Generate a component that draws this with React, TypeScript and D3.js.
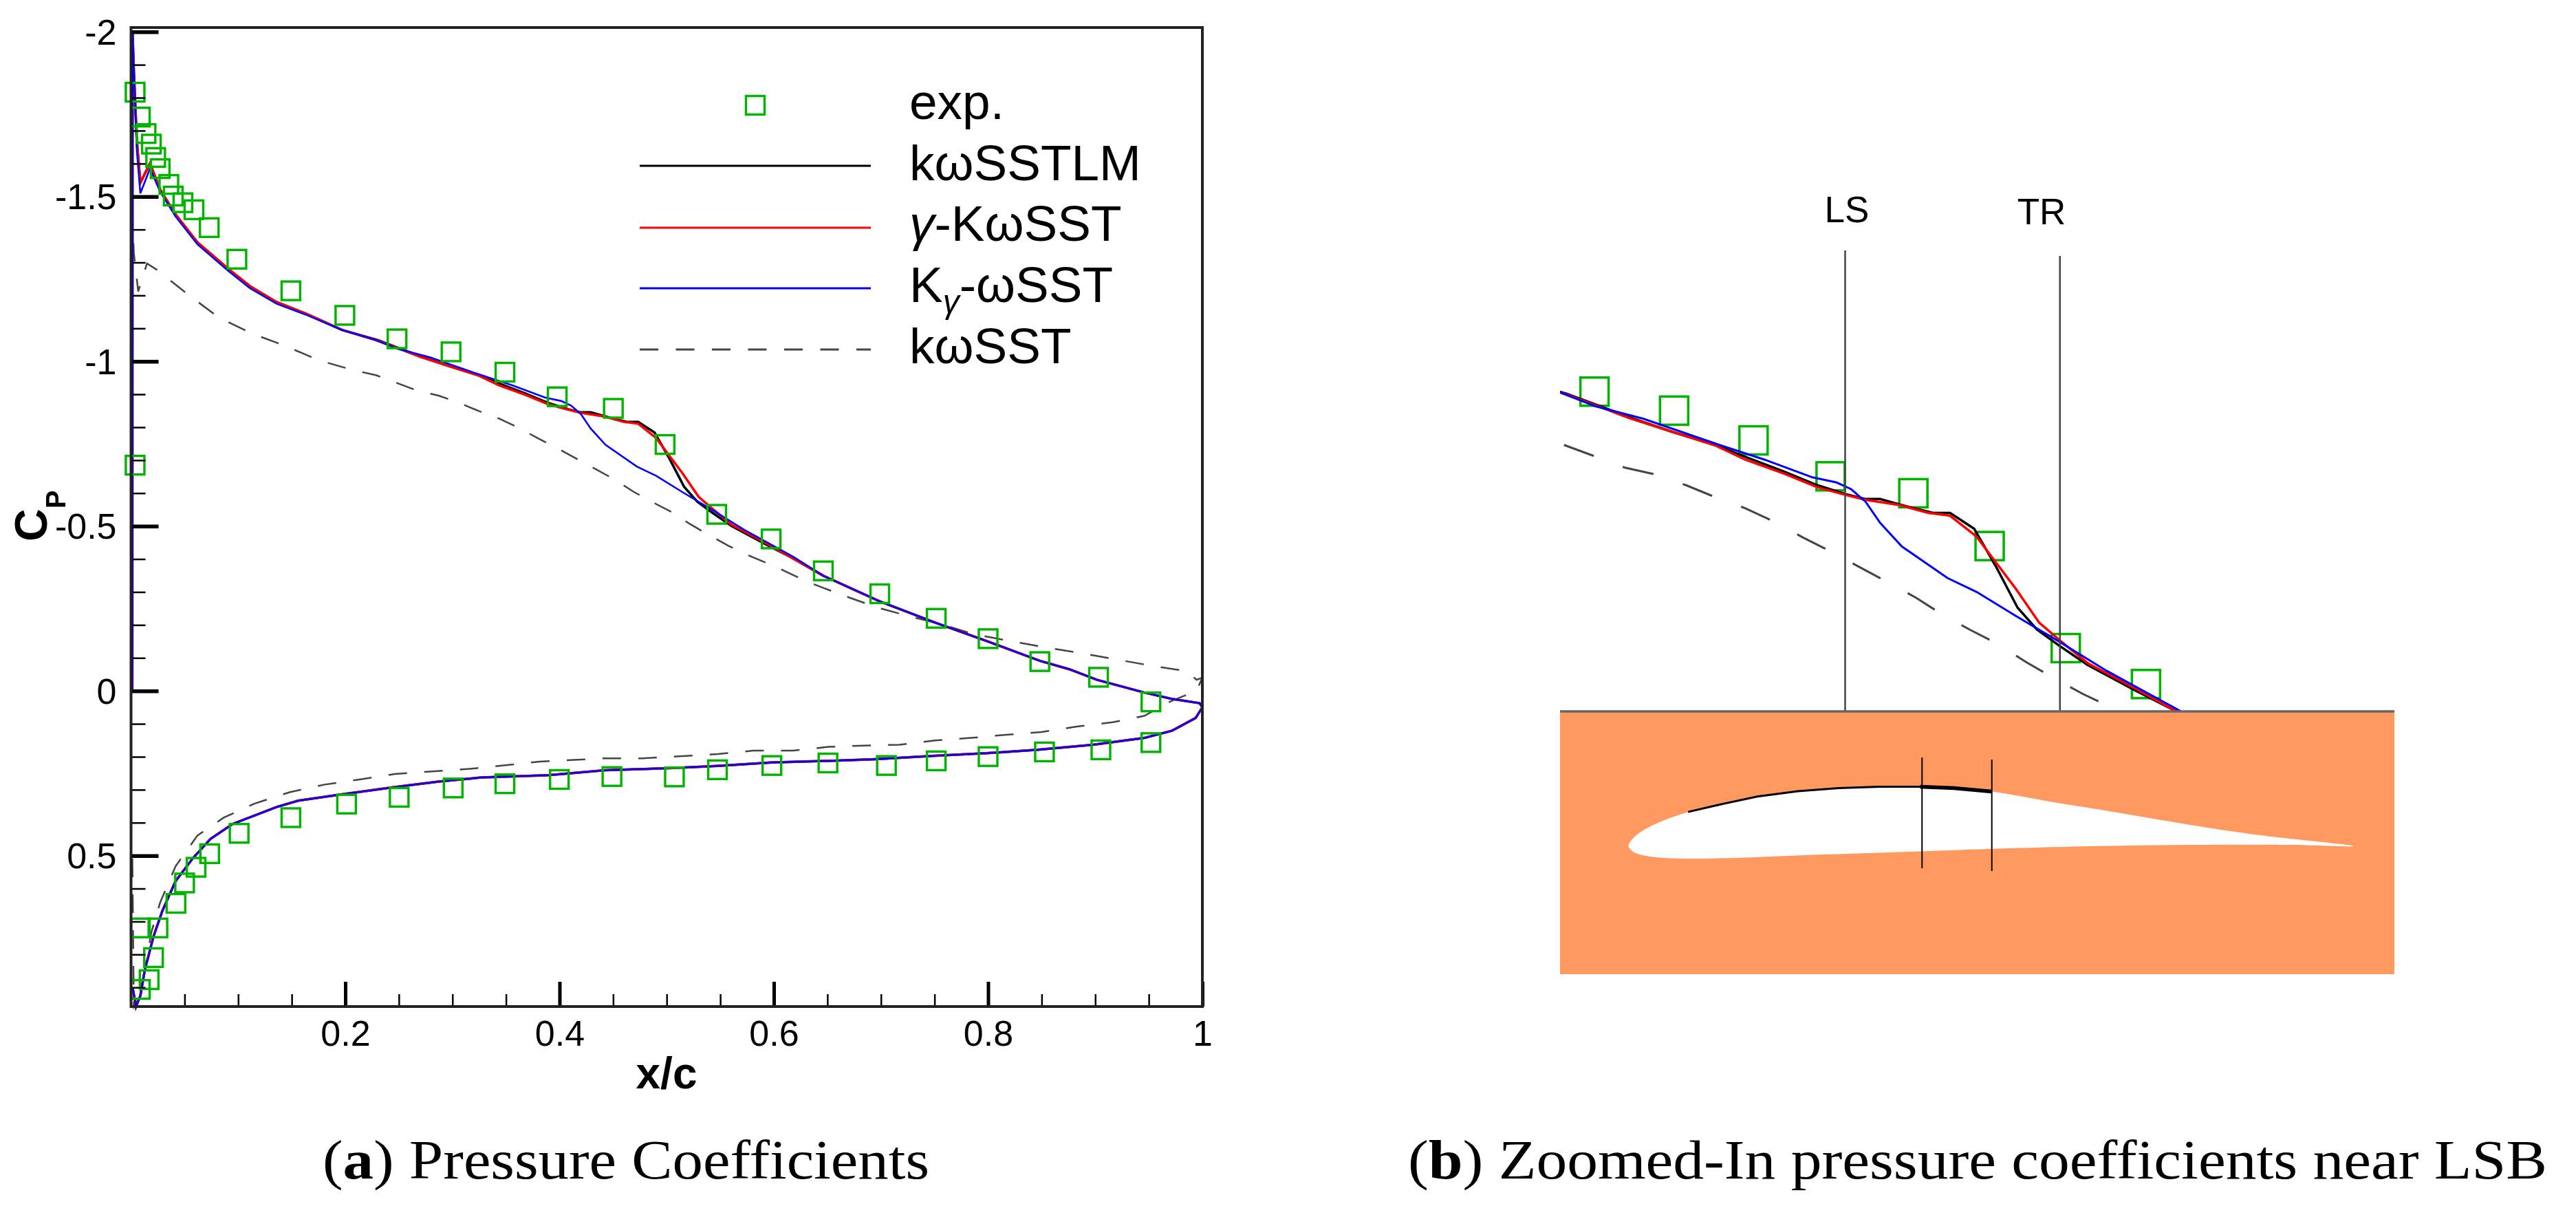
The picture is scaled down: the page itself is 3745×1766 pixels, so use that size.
import { useEffect, useRef } from 'react'
import * as d3 from 'd3'

type Pt = [number, number]

// x/c, Cp
const expPoints: Pt[] = [
  [0.0038, -1.8168], [0.0087, -1.7412], [0.014, -1.6912], [0.019, -1.6592], [0.023, -1.6187],
  [0.0272, -1.5847], [0.0353, -1.5368], [0.0394, -1.5016], [0.0484, -1.4813], [0.0587, -1.46],
  [0.073, -1.4058], [0.0988, -1.3099], [0.1492, -1.2141], [0.1996, -1.1395], [0.2483, -1.0682],
  [0.2987, -1.0288], [0.349, -0.967], [0.3978, -0.8924], [0.4502, -0.8573], [0.4985, -0.7476],
  [0.5467, -0.5357], [0.5975, -0.461], [0.6462, -0.3642], [0.6989, -0.2947], [0.7516, -0.2201],
  [0.8, -0.1583], [0.8483, -0.0888], [0.9031, -0.0412], [0.952, 0.0335], [0.0038, -0.6848],
  [0.952, 0.157], [0.9053, 0.1789], [0.8526, 0.1853], [0.8, 0.1995], [0.7516, 0.2124],
  [0.7051, 0.2265], [0.6505, 0.2188], [0.5982, 0.2265], [0.5474, 0.2394], [0.5072, 0.2613],
  [0.4489, 0.26], [0.3998, 0.269], [0.349, 0.2819], [0.3007, 0.2947], [0.2503, 0.3231],
  [0.2012, 0.3436], [0.1492, 0.3848], [0.1009, 0.4324], [0.0734, 0.4942], [0.0607, 0.5354],
  [0.05, 0.583], [0.0419, 0.6448], [0.0251, 0.7194], [0.021, 0.8095], [0.0169, 0.8764],
  [0.0087, 0.7194], [0.0087, 0.9061],
]

// front part of the suction side, shared by the transition models
const noseUpper: Pt[] = [
  [0.0012, 0.0], [0.0014, -2.0], [0.0026, -1.883], [0.0054, -1.67], [0.0087, -1.542],
  [0.0177, -1.6006], [0.0272, -1.5208], [0.0415, -1.446], [0.062, -1.361], [0.0906, -1.281],
  [0.111, -1.228], [0.1357, -1.18], [0.1643, -1.143], [0.1971, -1.095],
]
const noseUpperBlue: Pt[] = [
  [0.0012, 0.0], [0.0014, -2.0], [0.0026, -1.883], [0.0054, -1.64], [0.0087, -1.51],
  [0.0177, -1.585], [0.0272, -1.515], [0.0415, -1.44], [0.062, -1.355], [0.0906, -1.275],
  [0.111, -1.222], [0.1357, -1.175], [0.1643, -1.14], [0.1971, -1.095],
]

// bubble region
const bubbleBlack: Pt[] = [
  [0.2305, -1.0642], [0.2519, -1.0379], [0.2702, -1.015], [0.2977, -0.9846], [0.3252, -0.9575],
  [0.3436, -0.933], [0.368, -0.9026], [0.3894, -0.8739], [0.4077, -0.855], [0.42, -0.8452],
  [0.4291, -0.8452], [0.4474, -0.8288], [0.4627, -0.8164], [0.4734, -0.8164], [0.4887, -0.7836],
  [0.5024, -0.7057], [0.5162, -0.6196], [0.5284, -0.5745], [0.5422, -0.5416], [0.5605, -0.5006],
  [0.591, -0.4473], [0.6155, -0.4063],
]
const bubbleRed: Pt[] = [
  [0.2305, -1.0625], [0.2519, -1.0363], [0.2702, -1.0133], [0.2977, -0.9846], [0.3252, -0.9559],
  [0.3436, -0.9272], [0.368, -0.8985], [0.3894, -0.8698], [0.4077, -0.8534], [0.42, -0.8435],
  [0.4413, -0.8329], [0.4597, -0.8164], [0.4734, -0.8107], [0.4902, -0.7672], [0.5024, -0.7139],
  [0.5147, -0.6606], [0.5299, -0.5884], [0.5422, -0.5539], [0.5605, -0.5047], [0.591, -0.4514],
  [0.6155, -0.4063],
]
const bubbleBlue: Pt[] = [
  [0.2265, -1.0667], [0.2489, -1.0379], [0.2794, -1.0117], [0.3252, -0.96], [0.3558, -0.9272],
  [0.3863, -0.8903], [0.4016, -0.8796], [0.4108, -0.8657], [0.42, -0.8394], [0.4291, -0.7959],
  [0.4429, -0.7467], [0.4719, -0.6811], [0.4902, -0.6524], [0.5147, -0.6032], [0.5422, -0.5498],
  [0.5727, -0.4883], [0.6185, -0.4063],
]

// rear of the suction side and the whole pressure side
const tailAndLower: Pt[] = [
  [0.6465, -0.3488], [0.6989, -0.2716], [0.7505, -0.2072], [0.8002, -0.1493], [0.8481, -0.0914],
  [0.8758, -0.0656], [0.9016, -0.0335], [0.9458, 0.0051], [0.9716, 0.0245], [0.9974, 0.0373],
  [1.0, 0.05], [0.9937, 0.0824], [0.9716, 0.121], [0.9458, 0.1429], [0.8979, 0.1635],
  [0.8463, 0.1789], [0.7984, 0.1892], [0.7505, 0.197], [0.6952, 0.2072], [0.6511, 0.2124],
  [0.5976, 0.2175], [0.5477, 0.2278], [0.507, 0.2342], [0.4428, 0.2407], [0.3895, 0.2561],
  [0.3281, 0.2625], [0.2872, 0.2754], [0.2462, 0.2921], [0.1971, 0.314], [0.1561, 0.3333],
  [0.1357, 0.3526], [0.0947, 0.4041], [0.0742, 0.4492], [0.0579, 0.5071], [0.0415, 0.5779],
  [0.0292, 0.668], [0.021, 0.7452], [0.0128, 0.8481], [0.0087, 0.9254], [0.0046, 0.9588],
  [0.0015, 0.9],
]

const kwSST: Pt[] = [
  [0.001, -1.4675], [0.0026, -1.329], [0.0067, -1.212], [0.0149, -1.297], [0.025, -1.276],
  [0.0537, -1.2013], [0.0824, -1.132], [0.1131, -1.084], [0.1439, -1.047], [0.1746, -1.004],
  [0.2053, -0.975], [0.229, -0.9575], [0.2473, -0.9354], [0.2672, -0.9108], [0.287, -0.896],
  [0.3063, -0.8739], [0.3246, -0.8493], [0.3436, -0.8263], [0.3619, -0.7984], [0.3802, -0.7656],
  [0.398, -0.7361], [0.416, -0.7041], [0.4337, -0.6729], [0.452, -0.6401], [0.4688, -0.6048],
  [0.4866, -0.5728], [0.5043, -0.5433], [0.5217, -0.5064], [0.5391, -0.4735], [0.5574, -0.4407],
  [0.5758, -0.412], [0.6029, -0.3745], [0.6324, -0.3295], [0.6638, -0.2909], [0.697, -0.2523],
  [0.7265, -0.2265], [0.7578, -0.2008], [0.7873, -0.1712], [0.8242, -0.1493], [0.8574, -0.13],
  [0.8887, -0.1133], [0.9219, -0.094], [0.9532, -0.0759], [0.9864, -0.0592], [0.9945, -0.0335],
  [1.0, -0.04], [0.9945, 0.0], [0.9716, 0.03], [0.9458, 0.0759], [0.9163, 0.0952],
  [0.8831, 0.1081], [0.85, 0.1248], [0.815, 0.1338], [0.7836, 0.1429], [0.7505, 0.1506],
  [0.7172, 0.1634], [0.6841, 0.166], [0.6511, 0.1699], [0.6179, 0.1815], [0.5808, 0.1815],
  [0.5477, 0.1918], [0.5146, 0.1982], [0.4778, 0.2046], [0.4428, 0.2046], [0.3814, 0.2149],
  [0.3158, 0.2368], [0.2462, 0.2523], [0.2134, 0.269], [0.1807, 0.2844], [0.148, 0.3076],
  [0.1152, 0.3423], [0.0865, 0.3848], [0.062, 0.4389], [0.0415, 0.5328], [0.0272, 0.6422],
  [0.019, 0.7323], [0.0087, 0.9254], [0.0026, 0.9588], [0.0012, 0.5],
]

const kwSSTLM = [...noseUpper, ...bubbleBlack, ...tailAndLower]
const gammaKwSST = [...noseUpper, ...bubbleRed, ...tailAndLower]
const kGammaWSST = [...noseUpperBlue, ...bubbleBlue, ...tailAndLower]

const xMajor = [0.2, 0.4, 0.6, 0.8, 1]
const xMinor = [0.05, 0.1, 0.15, 0.25, 0.3, 0.35, 0.45, 0.5, 0.55, 0.65, 0.7, 0.75, 0.85, 0.9, 0.95]
const yMajor = [-2, -1.5, -1, -0.5, 0, 0.5]
const yMinor = [
  -1.9, -1.8, -1.7, -1.6, -1.4, -1.3, -1.2, -1.1, -0.9, -0.8, -0.7, -0.6, -0.4, -0.3, -0.2, -0.1,
  0.1, 0.2, 0.3, 0.4, 0.6, 0.7, 0.8, 0.9,
]

// airfoil outline in chord units
const airfoilUpper: Pt[] = [
  [0, 0], [0.0047, 0.0093], [0.0187, 0.0209], [0.0467, 0.0348], [0.0822, 0.0473], [0.1215, 0.0565],
  [0.1776, 0.0686], [0.2336, 0.076], [0.2897, 0.0802], [0.3458, 0.082], [0.4019, 0.082],
  [0.4486, 0.0802], [0.5009, 0.0755], [0.5888, 0.0603], [0.6822, 0.045], [0.7757, 0.0292],
  [0.8692, 0.0153], [1, 0],
]
const airfoilLower: Pt[] = [
  [0.9159, 0.0019], [0.7757, 0.0019], [0.6355, 0], [0.4953, -0.0037], [0.4019, -0.007],
  [0.2617, -0.0116], [0.1682, -0.0153], [0.0841, -0.0171], [0.028, -0.0139], [0.0075, -0.0083],
]
const wallMarksFront: Pt[] = [
  [0.0822, 0.0473], [0.1215, 0.0565], [0.1776, 0.0686], [0.2336, 0.076], [0.2897, 0.0802], [0.3458, 0.082], [0.4019, 0.082],
]
const wallMarksRear: Pt[] = [[0.4019, 0.082], [0.4486, 0.0802], [0.5009, 0.0755]]

const GREEN = '#00b400'
const BLUE = '#0000ff'
const SANS = '"Liberation Sans", Arial, sans-serif'
const SERIF = '"Liberation Serif", serif'

export default function App() {
  const svgRef = useRef<SVGSVGElement>(null)

  useEffect(() => {
    if (!svgRef.current) return
    const svg = d3.select(svgRef.current)
    svg.selectAll('*').remove()

    const defs = svg.append('defs')
    // the source panels are soft, upscaled bitmaps
    defs.append('filter').attr('id', 'soft').attr('filterUnits', 'userSpaceOnUse')
      .attr('x', 0).attr('y', 0).attr('width', 3745).attr('height', 1766)
      .append('feGaussianBlur').attr('stdDeviation', 0.55)
    defs.append('clipPath').attr('id', 'zoomClip').append('rect')
      .attr('x', 2268).attr('y', 300).attr('width', 1213).attr('height', 733)

    // ---- panel (a)
    const xScale = d3.scaleLinear().domain([0, 1]).range([190.5, 1748])
    const yScale = d3.scaleLinear().domain([-2.013, 0.958]).range([40, 1463])
    const a = svg.append('g').attr('filter', 'url(#soft)')

    const lineA = d3.line<Pt>().x((d) => xScale(d[0])).y((d) => yScale(d[1]))

    a.append('path').datum(kwSST).attr('d', lineA).attr('fill', 'none').attr('stroke', '#444')
      .attr('stroke-width', 2.5).attr('stroke-dasharray', '27 25')
    a.append('path').datum(kwSSTLM).attr('d', lineA).attr('fill', 'none').attr('stroke', '#000').attr('stroke-width', 3.5)
    a.append('path').datum(gammaKwSST).attr('d', lineA).attr('fill', 'none').attr('stroke', '#f00').attr('stroke-width', 3.5)
    a.append('path').datum(kGammaWSST).attr('d', lineA).attr('fill', 'none').attr('stroke', BLUE).attr('stroke-width', 2.6)

    a.selectAll('rect.exp').data(expPoints).join('rect').attr('class', 'exp')
      .attr('x', (d) => xScale(d[0]) - 13.5).attr('y', (d) => yScale(d[1]) - 13.5)
      .attr('width', 27).attr('height', 27).attr('fill', 'none').attr('stroke', GREEN).attr('stroke-width', 3.4)

    // inward ticks, minor and major
    const bottomAxis = (vals: number[], size: number, width: number) => {
      const g = a.append('g').attr('transform', 'translate(0,1463)')
        .call(d3.axisBottom(xScale).tickValues(vals).tickSize(-size).tickFormat((d) => String(d)))
      g.select('.domain').remove()
      g.selectAll('line').attr('stroke', '#000').attr('stroke-width', width)
      return g
    }
    const leftAxis = (vals: number[], size: number, width: number) => {
      const g = a.append('g').attr('transform', 'translate(190.5,0)')
        .call(d3.axisLeft(yScale).tickValues(vals).tickSize(-size).tickFormat((d) => String(d)))
      g.select('.domain').remove()
      g.selectAll('line').attr('stroke', '#000').attr('stroke-width', width)
      return g
    }
    bottomAxis(xMinor, 18, 2.5).selectAll('text').remove()
    leftAxis(yMinor, 21, 2.5).selectAll('text').remove()

    bottomAxis(xMajor, 36, 5).selectAll('text')
      .attr('y', 57).attr('dy', 0).attr('font-family', SANS).attr('font-size', 52).attr('fill', '#000').attr('text-anchor', 'middle')
    leftAxis(yMajor, 40, 5.5).selectAll('text')
      .attr('x', -21).attr('dy', 18).attr('font-family', SANS).attr('font-size', 52).attr('fill', '#000').attr('text-anchor', 'end')

    a.append('rect').attr('x', 190.5).attr('y', 40).attr('width', 1557.5).attr('height', 1423)
      .attr('fill', 'none').attr('stroke', '#222').attr('stroke-width', 4)

    a.append('text').attr('x', 969).attr('y', 1582).attr('text-anchor', 'middle')
      .attr('font-family', SANS).attr('font-weight', 700).attr('font-size', 64).text('x/c')

    const cp = a.append('text').attr('transform', 'translate(68,787) rotate(-90)')
      .attr('font-family', SANS).attr('font-weight', 700).attr('font-size', 66)
    cp.append('tspan').text('C')
    cp.append('tspan').attr('font-size', 40).attr('dy', 27).text('P')

    // legend
    a.append('rect').attr('x', 1084.5).attr('y', 139.5).attr('width', 27).attr('height', 27)
      .attr('fill', 'none').attr('stroke', GREEN).attr('stroke-width', 3.4)
    const legendLines: [number, string, number, string][] = [
      [241, '#000', 3, 'none'], [331, '#f00', 3, 'none'], [419, BLUE, 3, 'none'], [508, '#444', 3, '27 25.5'],
    ]
    legendLines.forEach(([y, c, w, dash]) => {
      a.append('line').attr('x1', 930).attr('x2', 1266).attr('y1', y).attr('y2', y)
        .attr('stroke', c).attr('stroke-width', w).attr('stroke-dasharray', dash)
    })
    const legendText = (y: number) =>
      a.append('text').attr('x', 1322).attr('y', y).attr('font-family', SANS).attr('font-size', 73).attr('fill', '#000')
    legendText(173).text('exp.')
    legendText(262).text('kωSSTLM')
    const g1 = legendText(350)
    g1.append('tspan').attr('font-style', 'italic').text('γ')
    g1.append('tspan').text('-KωSST')
    const g2 = legendText(439)
    g2.append('tspan').text('K')
    g2.append('tspan').attr('font-style', 'italic').attr('font-size', 48).attr('dy', 16).text('γ')
    g2.append('tspan').attr('dy', -16).text('-ωSST')
    legendText(528).text('kωSST')

    // ---- panel (b)
    const xB = d3.scaleLinear().domain([0.5, 0.75]).range([2896, 3470])
    const yB = d3.scaleLinear().domain([-0.75, -0.35]).range([792, 1072])
    const lineB = d3.line<Pt>().x((d) => xB(d[0])).y((d) => yB(d[1]))

    const b = svg.append('g').attr('filter', 'url(#soft)')
    const plot = b.append('g').attr('clip-path', 'url(#zoomClip)')

    plot.selectAll('rect.exp').data(expPoints.filter((d) => d[0] > 0.22 && d[0] < 0.62 && d[1] < 0))
      .join('rect').attr('class', 'exp')
      .attr('x', (d) => xB(d[0]) - 20.5).attr('y', (d) => yB(d[1]) - 20.5)
      .attr('width', 41).attr('height', 41).attr('fill', 'none').attr('stroke', GREEN).attr('stroke-width', 3.5)

    // only the suction side from x/c 0.229 on, so the dashes start where they do in the panel
    plot.append('path').datum(kwSST.slice(11, 33)).attr('d', lineB).attr('fill', 'none').attr('stroke', '#444')
      .attr('stroke-width', 3).attr('stroke-dasharray', '46 45')
    plot.append('path').datum(kwSSTLM).attr('d', lineB).attr('fill', 'none').attr('stroke', '#000').attr('stroke-width', 3.5)
    plot.append('path').datum(gammaKwSST).attr('d', lineB).attr('fill', 'none').attr('stroke', '#f00').attr('stroke-width', 3.5)
    plot.append('path').datum(kGammaWSST).attr('d', lineB).attr('fill', 'none').attr('stroke', BLUE).attr('stroke-width', 3)

    const markers: [number, string, number, number][] = [
      [0.407, 'LS', 2685, 323],
      [0.543, 'TR', 2968, 326],
    ]
    markers.forEach(([xc, label, tx, ty]) => {
      b.append('line').attr('x1', xB(xc)).attr('x2', xB(xc)).attr('y1', label === 'LS' ? 364 : 372).attr('y2', 1034)
        .attr('stroke', '#444').attr('stroke-width', 2.5)
      b.append('text').attr('x', tx).attr('y', ty).attr('text-anchor', 'middle')
        .attr('font-family', SANS).attr('font-size', 53).attr('fill', '#000').text(label)
    })

    b.append('rect').attr('x', 2268).attr('y', 1034).attr('width', 1213).attr('height', 382).attr('fill', '#ff9960')
    b.append('line').attr('x1', 2268).attr('x2', 3481).attr('y1', 1034).attr('y2', 1034).attr('stroke', '#666').attr('stroke-width', 3.5)

    const xFoil = d3.scaleLinear().domain([0, 1]).range([2367.5, 3422])
    const yFoil = d3.scaleLinear().domain([0, 1]).range([1230, 176])
    const foilLine = d3.line<Pt>().x((d) => xFoil(d[0])).y((d) => yFoil(d[1]))

    b.append('path').datum([...airfoilUpper, ...airfoilLower]).attr('d', foilLine.curve(d3.curveCatmullRomClosed)).attr('fill', '#fff')
    foilLine.curve(d3.curveLinear)
    b.append('path').datum(wallMarksFront).attr('d', foilLine).attr('fill', 'none').attr('stroke', '#000').attr('stroke-width', 3)
    b.append('path').datum(wallMarksRear).attr('d', foilLine).attr('fill', 'none').attr('stroke', '#000').attr('stroke-width', 5.5)

    const foilMarks: [number, number, number][] = [
      [0.4047, 1101, 1262],
      [0.5009, 1104, 1266],
    ]
    foilMarks.forEach(([xc, y1, y2]) => {
      b.append('line').attr('x1', xFoil(xc)).attr('x2', xFoil(xc)).attr('y1', y1).attr('y2', y2)
        .attr('stroke', '#000').attr('stroke-width', 2)
    })

    // ---- captions
    const caption = (x: number, len: number, letter: string, rest: string) => {
      const t = svg.append('text').attr('x', x).attr('y', 1713).attr('font-family', SERIF).attr('font-size', 80)
        .attr('textLength', len).attr('lengthAdjust', 'spacingAndGlyphs').attr('fill', '#000')
      t.append('tspan').text('(')
      t.append('tspan').attr('font-weight', 700).text(letter)
      t.append('tspan').text(`) ${rest}`)
    }
    caption(469, 882, 'a', 'Pressure Coefficients')
    caption(2047, 1656, 'b', 'Zoomed-In pressure coefficients near LSB')
  }, [])

  return (
    <svg
      ref={svgRef}
      width={3745}
      height={1766}
      style={{ position: 'absolute', left: 0, top: 0, background: '#fff' }}
    />
  )
}
